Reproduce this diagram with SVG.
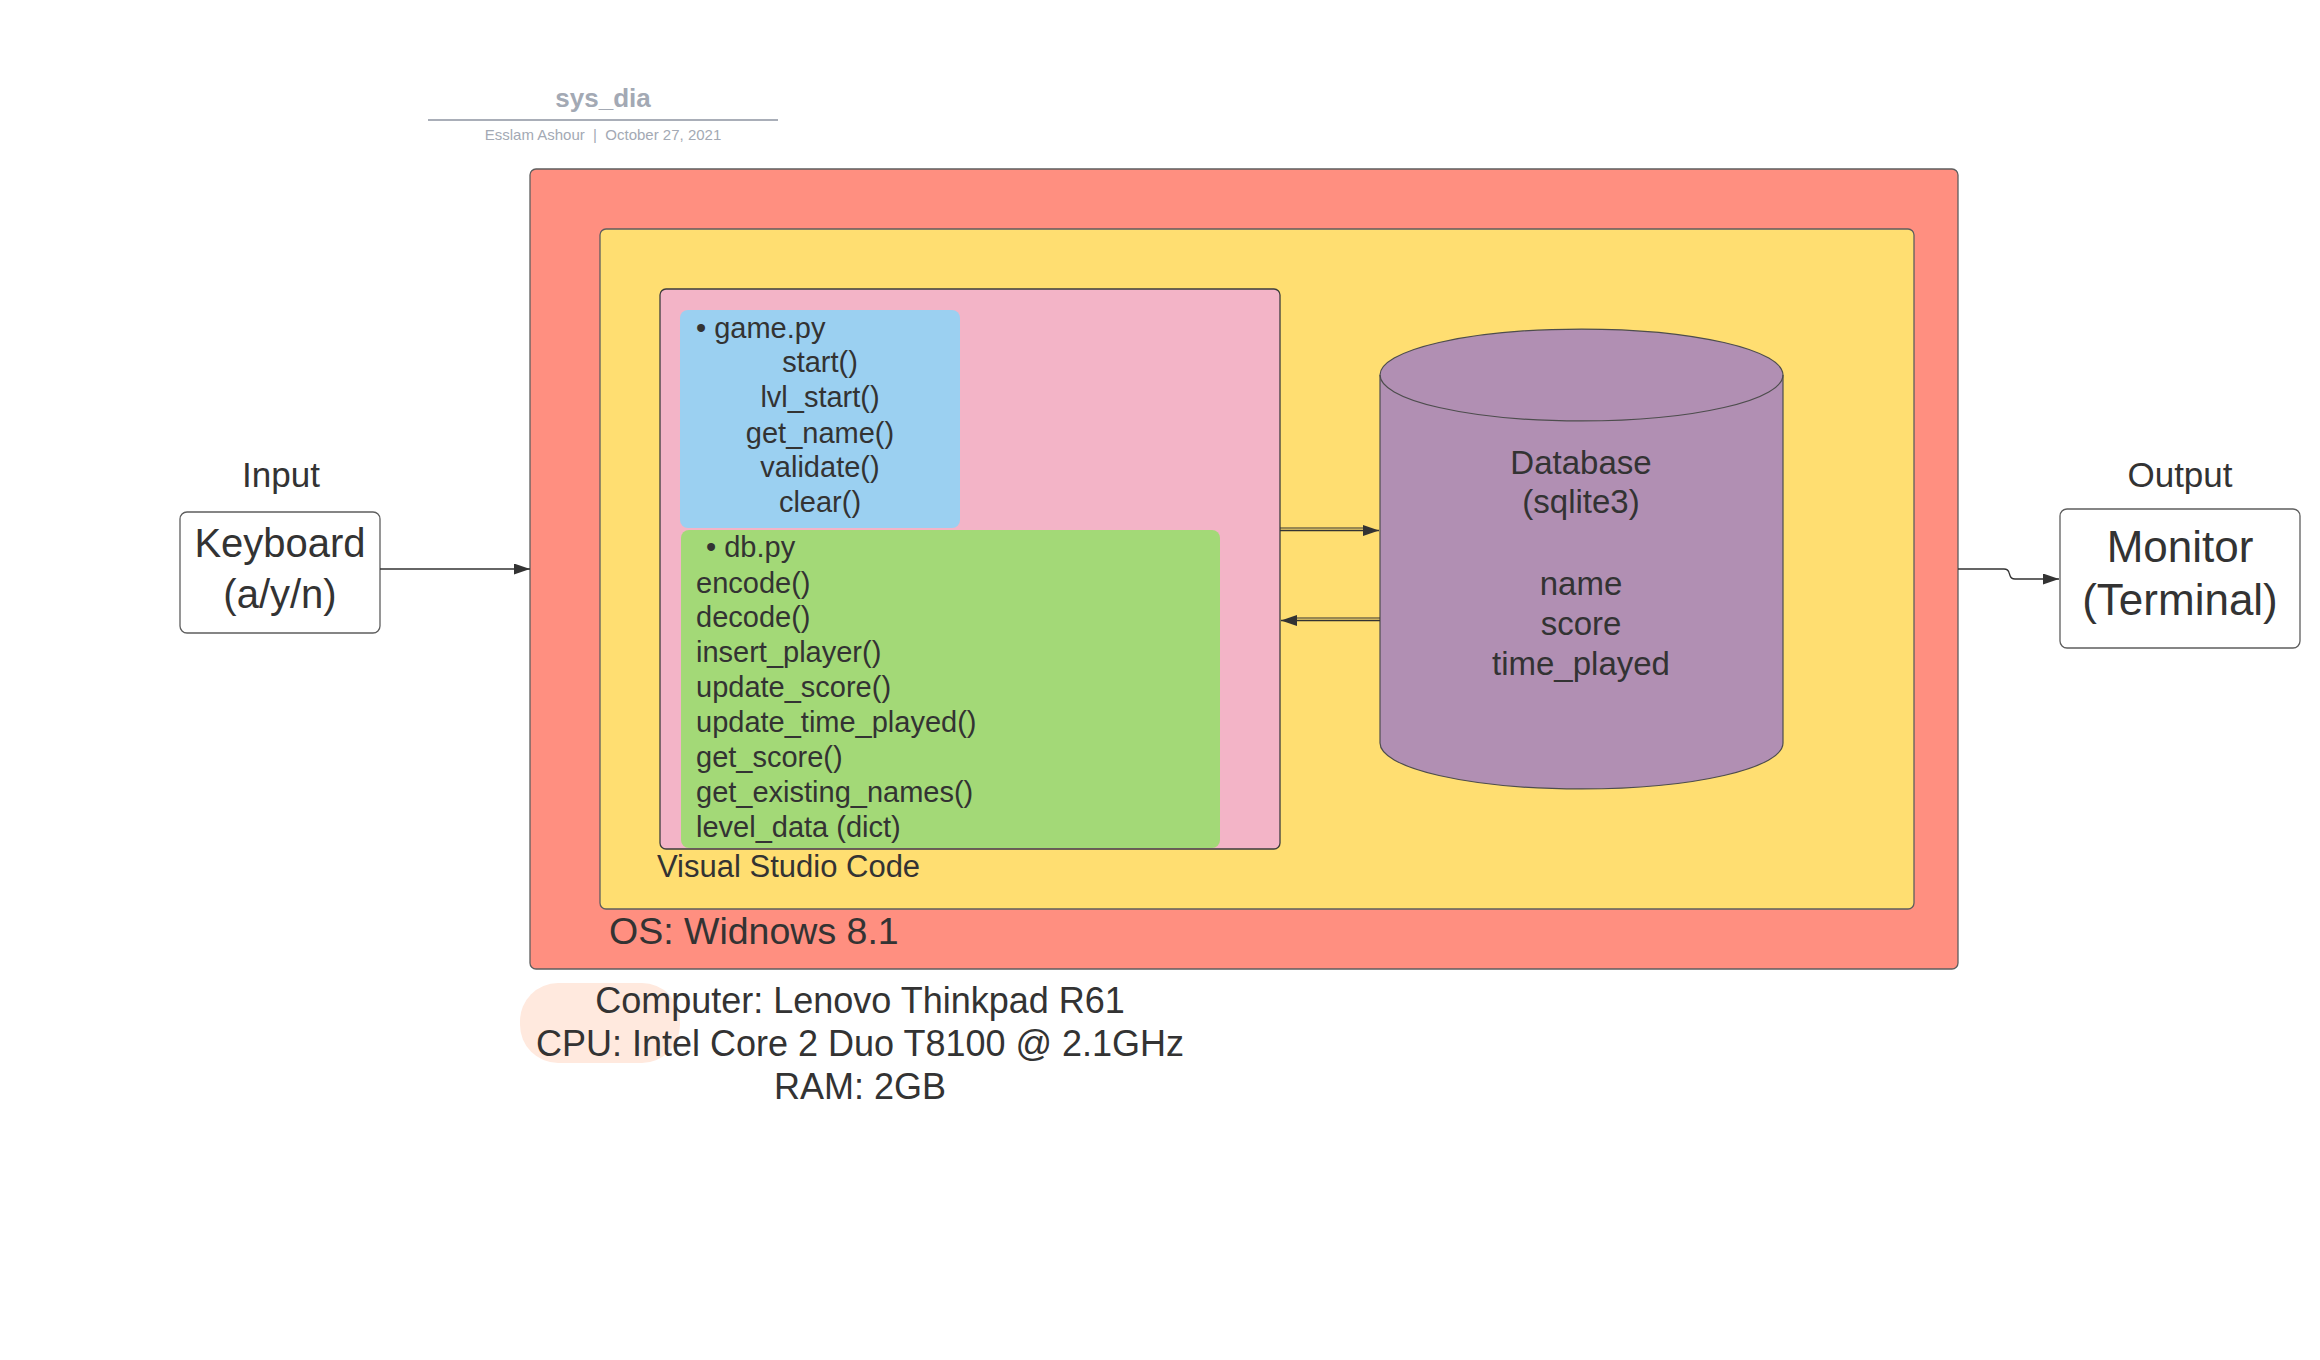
<svg xmlns="http://www.w3.org/2000/svg" width="2320" height="1360" viewBox="0 0 2320 1360">
<defs>
<style>
text{font-family:"Liberation Sans",Arial,sans-serif;fill:#333333}
.c{text-anchor:middle}
.fn{font-size:29px}
.box{stroke:#5e5e5e;stroke-width:1.3}
.ln{stroke:#333333;stroke-width:1.3;fill:none}
</style>
<marker id="ah" markerUnits="userSpaceOnUse" markerWidth="18" markerHeight="12" refX="16" refY="5.5" orient="auto">
<path d="M0,0 L16,5.5 L0,11 z" fill="#333333"/>
</marker>
</defs>
<rect width="2320" height="1360" fill="#ffffff"/>
<g id="title">
<text x="603" y="107" class="c" style="font-size:26px;font-weight:bold;fill:#a3a9b4">sys_dia</text>
<line x1="428" y1="120" x2="778" y2="120" stroke="#a9aeb8" stroke-width="2"/>
<text x="603" y="140" class="c" xml:space="preserve" style="font-size:15px;fill:#a3a9b4">Esslam Ashour  |  October 27, 2021</text>
</g>
<g id="computer">
<rect x="520" y="983" width="160" height="80" rx="38" fill="#ffe9de"/>
<text class="c" style="font-size:36px"><tspan x="860" y="1013">Computer: Lenovo Thinkpad R61</tspan><tspan x="860" y="1056">CPU: Intel Core 2 Duo T8100 @ 2.1GHz</tspan><tspan x="860" y="1099">RAM: 2GB</tspan></text>
</g>
<g id="os">
<rect x="530" y="169" width="1428" height="800" rx="6" fill="#ff8f80" class="box"/>
<text x="609" y="944" style="font-size:37.5px">OS: Widnows 8.1</text>
</g>
<g id="vscode">
<rect x="600" y="229" width="1314" height="680" rx="6" fill="#ffde71" class="box"/>
<text x="657" y="877" style="font-size:31px">Visual Studio Code</text>
</g>
<g id="project">
<rect x="660" y="289" width="620" height="560" rx="6" fill="#f3b4c7" stroke="#3d3d3d" stroke-width="1.3"/>
</g>
<g id="game-py">
<rect x="680" y="310" width="280" height="218" rx="8" fill="#9bd0f1"/>
<text x="696" y="338" class="fn" xml:space="preserve">• game.py</text>
<text class="c fn"><tspan x="820" y="372">start()</tspan><tspan x="820" y="407">lvl_start()</tspan><tspan x="820" y="443">get_name()</tspan><tspan x="820" y="477">validate()</tspan><tspan x="820" y="512">clear()</tspan></text>
</g>
<g id="db-py">
<rect x="681" y="530" width="539" height="318" rx="8" fill="#a3d977"/>
<text x="706" y="557" class="fn" xml:space="preserve">• db.py</text>
<text class="fn"><tspan x="696" y="593">encode()</tspan><tspan x="696" y="627">decode()</tspan><tspan x="696" y="662">insert_player()</tspan><tspan x="696" y="697">update_score()</tspan><tspan x="696" y="732">update_time_played()</tspan><tspan x="696" y="767">get_score()</tspan><tspan x="696" y="802">get_existing_names()</tspan><tspan x="696" y="837">level_data (dict)</tspan></text>
</g>
<g id="database">
<path d="M1380,375 A201.5,46 0 0 1 1783,375 L1783,743 A201.5,46 0 0 1 1380,743 Z" fill="#b18fb3" stroke="#4d4d4d" stroke-width="1.2"/>
<path d="M1380,375 A201.5,46 0 0 0 1783,375" fill="none" stroke="#4d4d4d" stroke-width="1.2"/>
<text class="c" style="font-size:33px"><tspan x="1581" y="474">Database</tspan><tspan x="1581" y="513">(sqlite3)</tspan><tspan x="1581" y="595">name</tspan><tspan x="1581" y="635">score</tspan><tspan x="1581" y="675">time_played</tspan></text>
</g>
<g id="input">
<text x="281" y="487" class="c" style="font-size:35px">Input</text>
<rect x="180" y="512" width="200" height="121" rx="7" fill="#ffffff" class="box"/>
<text class="c" style="font-size:40px"><tspan x="280" y="557">Keyboard</tspan><tspan x="280" y="608">(a/y/n)</tspan></text>
</g>
<g id="output">
<text x="2180" y="487" class="c" style="font-size:35px">Output</text>
<rect x="2060" y="509" width="240" height="139" rx="7" fill="#ffffff" class="box"/>
<text class="c" style="font-size:44px"><tspan x="2180" y="562">Monitor</tspan><tspan x="2180" y="615">(Terminal)</tspan></text>
</g>
<g id="connectors">
<line x1="380" y1="569" x2="530" y2="569" class="ln" marker-end="url(#ah)"/>
<line x1="1280" y1="528" x2="1366" y2="528" stroke="#333333" stroke-width="1"/>
<line x1="1280" y1="530.5" x2="1379" y2="530.5" class="ln" stroke-width="1" marker-end="url(#ah)"/>
<line x1="1380" y1="618" x2="1296" y2="618" stroke="#333333" stroke-width="1"/>
<line x1="1380" y1="620.5" x2="1281" y2="620.5" class="ln" stroke-width="1" marker-end="url(#ah)"/>
<path d="M1958,569 L2004,569 Q2008,569 2009,572.5 L2010,575.5 Q2011,579 2015,579 L2059,579" class="ln" marker-end="url(#ah)"/>
</g>
</svg>
